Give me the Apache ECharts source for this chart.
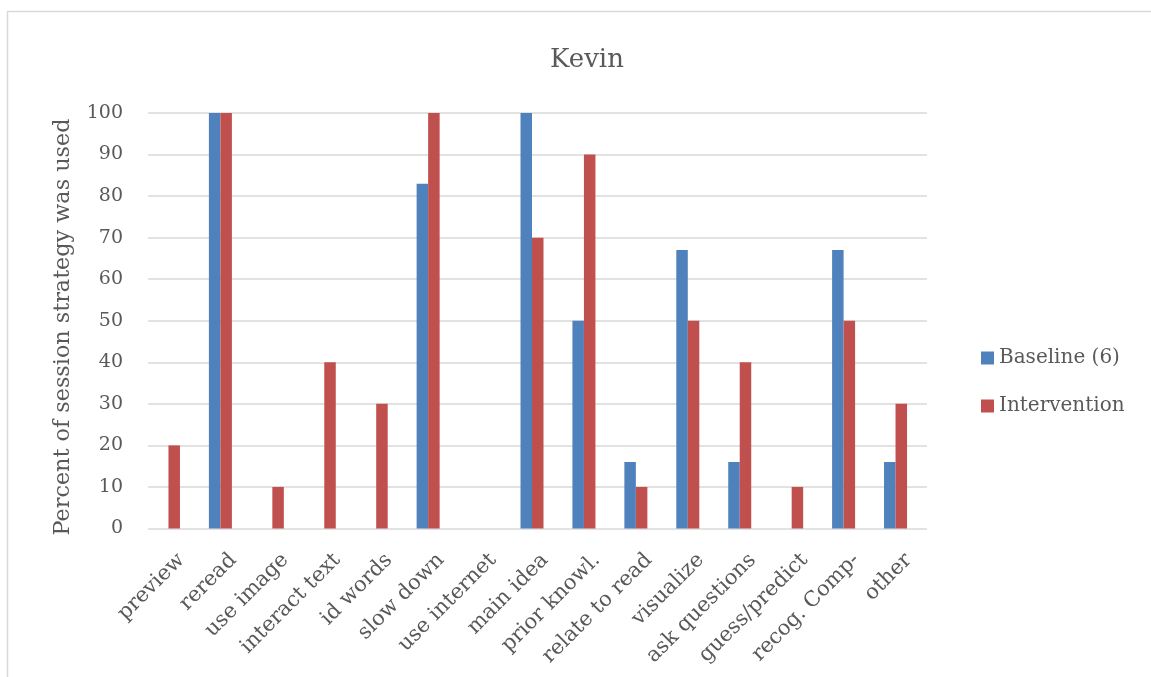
<!DOCTYPE html>
<html>
<head>
<meta charset="utf-8">
<script src="https://cdn.jsdelivr.net/npm/echarts@6/dist/echarts.min.js"></script>
<style>
  html, body { margin: 0; padding: 0; background: #ffffff; }
  #chart { width: 1151px; height: 677px; }
</style>
</head>
<body>
<div id="chart"></div>
<script>
// Strategy categories along the x axis
const categories = [
  'preview', 'reread', 'use image', 'interact text', 'id words', 'slow down',
  'use internet', 'main idea', 'prior knowl.', 'relate to read', 'visualize',
  'ask questions', 'guess/predict', 'recog. Comp-', 'other'
];
// Percent of sessions each strategy was used
const baseline = [0, 100, 0, 0, 0, 83, 0, 100, 50, 16, 67, 16, 0, 67, 16];
const intervention = [20, 100, 10, 40, 30, 100, 0, 70, 90, 10, 50, 40, 10, 50, 30];
// Value axis ticks
const yTicks = [0, 10, 20, 30, 40, 50, 60, 70, 80, 90, 100];
const yTitle = 'Percent of session strategy was used';

const FONT = 'DejaVu Serif';
const TEXT = '#595959';
const GRIDLINE = '#d9d9d9';

const chart = echarts.init(document.getElementById('chart'), null, { renderer: 'canvas' });

chart.setOption({
  backgroundColor: '#ffffff',
  animation: false,
  title: {
    text: 'Kevin',
    left: 582,
    textAlign: 'center',
    top: 42,
    textStyle: { fontFamily: FONT, fontSize: 26, fontWeight: 'normal', color: TEXT }
  },
  legend: {
    orient: 'vertical',
    left: 976,
    top: 343,
    itemWidth: 13,
    itemHeight: 13,
    itemGap: 28,
    icon: 'rect',
    textStyle: { fontFamily: FONT, fontSize: 20, color: TEXT },
    data: ['Baseline (6)', 'Intervention']
  },
  graphic: [{
    // outer chart frame
    type: 'rect',
    shape: { x: 7.5, y: 11.5, width: 1300, height: 800 },
    style: { fill: 'none', stroke: '#d9d9d9', lineWidth: 1.5 },
    silent: true,
    z: -10
  }, {
    // value axis title
    type: 'text',
    x: 63,
    y: 327,
    rotation: Math.PI / 2,
    style: {
      text: yTitle,
      fill: TEXT,
      font: '22.3px "' + FONT + '"',
      textAlign: 'center',
      textVerticalAlign: 'middle'
    },
    silent: true
  }],
  grid: [
    // gridlines, value labels and category labels
    { left: 148, top: 113, width: 779, height: 415.5 },
    // bar plotting area
    { left: 142.5, top: 113, width: 779, height: 415.5 }
  ],
  xAxis: [{
    gridIndex: 0,
    type: 'category',
    data: categories,
    axisLine: { show: false },
    axisTick: { show: false },
    axisLabel: {
      rotate: 45,
      interval: 0,
      margin: 21,
      verticalAlign: 'top',
      fontFamily: FONT,
      fontSize: 21,
      color: TEXT
    }
  }, {
    gridIndex: 1,
    type: 'category',
    data: categories,
    axisLine: { show: false },
    axisTick: { show: false },
    axisLabel: { show: false }
  }],
  yAxis: [{
    gridIndex: 0,
    type: 'value',
    min: yTicks[0],
    max: yTicks[yTicks.length - 1],
    interval: yTicks[1] - yTicks[0],
    axisLine: { show: false },
    axisTick: { show: false },
    axisLabel: { margin: 25, fontFamily: FONT, fontSize: 19, color: TEXT },
    splitLine: { lineStyle: { color: GRIDLINE, width: 1.5 } }
  }, {
    gridIndex: 1,
    type: 'value',
    min: yTicks[0],
    max: yTicks[yTicks.length - 1],
    interval: yTicks[1] - yTicks[0],
    axisLine: { show: false },
    axisTick: { show: false },
    axisLabel: { show: false },
    splitLine: { show: false }
  }],
  series: [{
    name: 'Baseline (6)',
    type: 'bar',
    xAxisIndex: 1,
    yAxisIndex: 1,
    data: baseline,
    barWidth: 11.5,
    barGap: '0%',
    itemStyle: { color: '#4F81BD' }
  }, {
    name: 'Intervention',
    type: 'bar',
    xAxisIndex: 1,
    yAxisIndex: 1,
    data: intervention,
    barWidth: 11.5,
    barGap: '0%',
    itemStyle: { color: '#C0504D' }
  }]
});
</script>
</body>
</html>
